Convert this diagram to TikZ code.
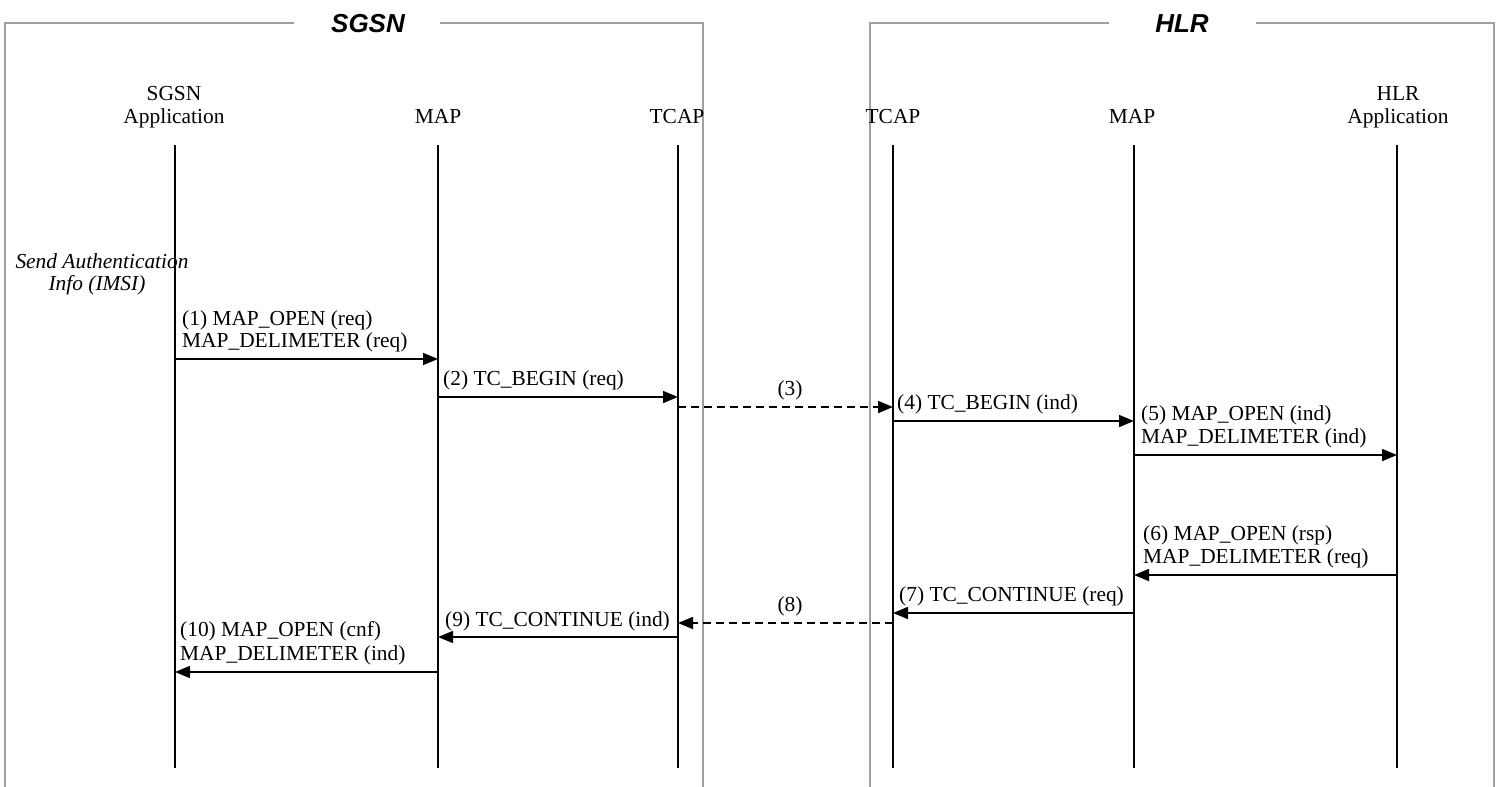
\documentclass[tikz,border=0pt]{standalone}
\usepackage{fontspec}
\setmainfont{Liberation Serif}
\newfontfamily\titlefont{Liberation Sans}
\usetikzlibrary{arrows.meta}
\definecolor{framegray}{HTML}{A0A0A0}
\tikzset{
  lbl/.style={anchor=base west, inner sep=0pt, font=\fontsize{21.4}{23}\selectfont},
  hdr/.style={anchor=base, inner sep=0pt, font=\fontsize{21.4}{23}\selectfont},
  note/.style={anchor=base, inner sep=0pt, font=\fontsize{21.4}{23}\selectfont\itshape},
  ttl/.style={anchor=base, inner sep=0pt, font=\fontsize{26}{28}\selectfont\titlefont\bfseries\itshape},
  frame/.style={draw=framegray, line width=1.5pt},
  life/.style={draw=black, line width=1.8pt},
  msg/.style={draw=black, line width=1.6pt, -{Triangle[length=15pt,width=12pt]}},
  dmsg/.style={msg, dash pattern=on 8pt off 5pt},
}
\begin{document}
\begin{tikzpicture}[x=1pt,y=-1pt]
\useasboundingbox[fill=white] (0,0) rectangle (1502,787);
% frames
\draw[frame] (294,23) -- (5,23) -- (5,790);
\draw[frame] (440,23) -- (703,23) -- (703,790);
\draw[frame] (1109,23) -- (870,23) -- (870,790);
\draw[frame] (1256,23) -- (1494,23) -- (1494,790);
\node[ttl] (tsgsn) at (368,32) {SGSN};
\node[ttl] (thlr) at (1182,32) {HLR};
% lifeline anchors
\coordinate (sa) at (175,145);
\coordinate (m1) at (438,145);
\coordinate (t1) at (678,145);
\coordinate (t2) at (893,145);
\coordinate (m2) at (1134,145);
\coordinate (ha) at (1397,145);
\foreach \n in {sa,m1,t1,t2,m2,ha} {
  \coordinate (\n b) at (\n |- 0,768);
  \draw[life] (\n) -- (\n b);
}
% headers
\node[hdr] (hsa1) at (174,100) {SGSN};
\node[hdr] (hsa2) at (174,123) {Application};
\node[hdr] (hm1) at (438,123) {MAP};
\node[hdr] (ht1) at (677,123) {TCAP};
\node[hdr] (ht2) at (893,123) {TCAP};
\node[hdr] (hm2) at (1132,123) {MAP};
\node[hdr] (hha1) at (1398,100) {HLR};
\node[hdr] (hha2) at (1398,123) {Application};
% note
\node[note] (n1) at (102,268) {Send Authentication};
\node[note] (n2) at (97,290) {Info (IMSI)};
% messages
\node[lbl] (l1a) at (182,325) {(1) MAP\_OPEN (req)};
\node[lbl] (l1b) at (182,347) {MAP\_DELIMETER (req)};
\draw[msg] (sa |- 0,359) -- (m1 |- 0,359);
\node[lbl] (l2) at (443,385) {(2) TC\_BEGIN (req)};
\draw[msg] (m1 |- 0,397) -- (t1 |- 0,397);
\node[hdr] (l3) at (790,395) {(3)};
\draw[dmsg] (t1 |- 0,407) -- (t2 |- 0,407);
\node[lbl] (l4) at (897,409) {(4) TC\_BEGIN (ind)};
\draw[msg] (t2 |- 0,421) -- (m2 |- 0,421);
\node[lbl] (l5a) at (1141,420) {(5) MAP\_OPEN (ind)};
\node[lbl] (l5b) at (1141,443) {MAP\_DELIMETER (ind)};
\draw[msg] (m2 |- 0,455) -- (ha |- 0,455);
\node[lbl] (l6a) at (1143,540) {(6) MAP\_OPEN (rsp)};
\node[lbl] (l6b) at (1143,563) {MAP\_DELIMETER (req)};
\draw[msg] (ha |- 0,575) -- (m2 |- 0,575);
\node[lbl] (l7) at (899,601) {(7) TC\_CONTINUE (req)};
\draw[msg] (m2 |- 0,613) -- (t2 |- 0,613);
\node[hdr] (l8) at (790,611) {(8)};
\draw[dmsg] (t2 |- 0,623) -- (t1 |- 0,623);
\node[lbl] (l9) at (445,626) {(9) TC\_CONTINUE (ind)};
\draw[msg] (t1 |- 0,637) -- (m1 |- 0,637);
\node[lbl] (l10a) at (180,636) {(10) MAP\_OPEN (cnf)};
\node[lbl] (l10b) at (180,660) {MAP\_DELIMETER (ind)};
\draw[msg] (m1 |- 0,672) -- (sa |- 0,672);
\end{tikzpicture}
\end{document}
